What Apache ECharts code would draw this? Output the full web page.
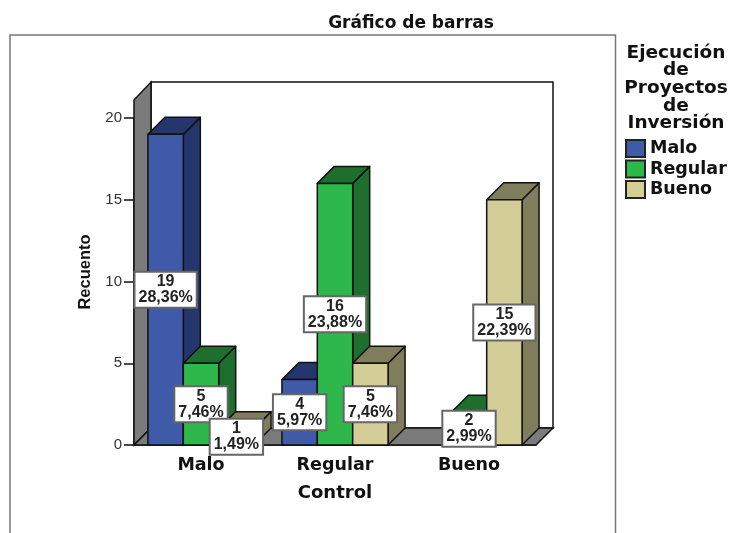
<!DOCTYPE html>
<html>
<head>
<meta charset="utf-8">
<title>Gráfico de barras</title>
<style>
  html, body { margin: 0; padding: 0; background: #fff; }
  #chart { width: 729px; height: 533px; }
</style>
<script src="https://cdn.jsdelivr.net/npm/echarts@6/dist/echarts.min.js"></script>
</head>
<body>
<div id="chart"></div>
<script>
var categories = ['Malo', 'Regular', 'Bueno']
var yTicks = [0, 5, 10, 15, 20]
var maloCounts = [19, 4, 0]
var regularCounts = [5, 16, 2]
var buenoCounts = [1, 5, 15]
var maloPercents = ['28,36%', '5,97%', '']
var regularPercents = ['7,46%', '23,88%', '2,99%']
var buenoPercents = ['1,49%', '7,46%', '22,39%']
var wallTop = 21.1

var FONT = '"DejaVu Sans", sans-serif'
var FONT_NARROW = '"Liberation Sans", sans-serif'
var DEPTH = 17
var BAR_RATIO = 0.264
var palette = [
  { name: 'Malo', front: '#3f5aa9', dark: '#24366b' },
  { name: 'Regular', front: '#2eb84c', dark: '#1e6e2e' },
  { name: 'Bueno', front: '#d3ce97', dark: '#7f7d5c' }
]
var counts = [maloCounts, regularCounts, buenoCounts]
var percents = [maloPercents, regularPercents, buenoPercents]

function barBox (api, s) {
  var i = api.value(0)
  var base = api.coord([i, 0])
  var top = api.coord([i, api.value(1)])
  var w = api.size([1, 0])[0] * BAR_RATIO
  var x = base[0] + (s - 1.5) * w
  return { x: x, w: w, y0: base[1], y1: top[1] }
}

function renderWalls (params, api) {
  var c = params.coordSys
  var left = c.x
  var right = c.x + c.width
  var y0 = c.y + c.height
  var yt = api.coord([0, wallTop])[1]
  var line = { stroke: '#111', lineWidth: 1.5 }
  return {
    type: 'group',
    children: [
      { type: 'rect', shape: { x: left + DEPTH, y: yt - DEPTH - 1, width: c.width, height: y0 - yt + 1 }, style: Object.assign({ fill: '#fff' }, line) },
      { type: 'polygon', shape: { points: [[left, yt], [left + DEPTH, yt - DEPTH - 1], [left + DEPTH, y0 - DEPTH], [left, y0]] }, style: Object.assign({ fill: '#7b7b7b' }, line) },
      { type: 'polygon', shape: { points: [[left, y0], [left + DEPTH, y0 - DEPTH], [right + DEPTH, y0 - DEPTH], [right, y0]] }, style: Object.assign({ fill: '#7b7b7b' }, line) }
    ]
  }
}

function renderBar (params, api) {
  var b = barBox(api, params.seriesIndex - 1)
  if (api.value(1) === 0) return null
  var p = palette[params.seriesIndex - 1]
  var line = { stroke: '#111', lineWidth: 1.5, lineJoin: 'round' }
  return {
    type: 'group',
    children: [
      { type: 'polygon', shape: { points: [[b.x + b.w, b.y1], [b.x + b.w + DEPTH, b.y1 - DEPTH], [b.x + b.w + DEPTH, b.y0 - DEPTH], [b.x + b.w, b.y0]] }, style: Object.assign({ fill: p.dark }, line) },
      { type: 'polygon', shape: { points: [[b.x, b.y1], [b.x + DEPTH, b.y1 - DEPTH], [b.x + b.w + DEPTH, b.y1 - DEPTH], [b.x + b.w, b.y1]] }, style: Object.assign({ fill: p.dark }, line) },
      { type: 'rect', shape: { x: b.x, y: b.y1, width: b.w, height: b.y0 - b.y1 }, style: Object.assign({ fill: p.front }, line) }
    ]
  }
}

function renderLabel (params, api) {
  var s = api.value(2)
  if (api.value(1) === 0) return null
  var b = barBox(api, s)
  return {
    type: 'text',
    x: b.x + b.w / 2,
    y: (b.y0 + b.y1) / 2,
    style: {
      text: api.value(1) + '\n' + percents[s][api.value(0)],
      align: 'center',
      verticalAlign: 'middle',
      font: 'bold 16px ' + FONT_NARROW,
      lineHeight: 16,
      fill: '#222',
      backgroundColor: '#fff',
      borderColor: '#666',
      borderWidth: 2,
      padding: [1, 3, 1, 3]
    }
  }
}

var series = [{
  name: 'walls',
  type: 'custom',
  clip: false,
  z: 1,
  renderItem: renderWalls,
  data: [[0, 0]],
  silent: true
}]
palette.forEach(function (p, s) {
  series.push({
    name: p.name,
    type: 'custom',
    clip: false,
    z: 2,
    itemStyle: { color: p.front, borderColor: '#222', borderWidth: 1.5 },
    renderItem: renderBar,
    encode: { x: 0, y: 1 },
    data: counts[s].map(function (v, i) { return [i, v] })
  })
})
var labelData = []
counts.forEach(function (list, s) {
  list.forEach(function (v, i) { labelData.push([i, v, s]) })
})
series.push({
  name: 'labels',
  type: 'custom',
  clip: false,
  z: 5,
  renderItem: renderLabel,
  encode: { x: 0, y: 1 },
  data: labelData
})

var chart = echarts.init(document.getElementById('chart'), null, { renderer: 'canvas' })
chart.setOption({
  animation: false,
  backgroundColor: '#fff',
  title: [
    {
      text: 'Gráfico de barras',
      left: 411,
      top: 15,
      padding: 0,
      textAlign: 'center',
      textStyle: { fontFamily: FONT, fontSize: 17, fontWeight: 'bold', color: '#111' }
    },
    {
      text: 'Ejecución\nde\nProyectos\nde\nInversión',
      left: 676,
      top: 44,
      padding: 0,
      textAlign: 'center',
      textStyle: { fontFamily: FONT, fontSize: 18.5, fontWeight: 'bold', color: '#111', lineHeight: 17.7 }
    }
  ],
  legend: {
    data: categories,
    orient: 'vertical',
    left: 625,
    top: 139,
    padding: 0,
    itemWidth: 19,
    itemHeight: 17,
    itemGap: 1.5,
    icon: 'rect',
    textStyle: { fontFamily: FONT, fontSize: 17.5, lineHeight: 17, fontWeight: 'bold', color: '#111' }
  },
  grid: { left: 134, top: 118, width: 402, height: 327 },
  xAxis: {
    type: 'category',
    data: categories,
    name: 'Control',
    nameLocation: 'middle',
    nameGap: 39,
    nameTextStyle: { fontFamily: FONT, fontSize: 18, fontWeight: 'bold', color: '#111' },
    axisLine: { lineStyle: { color: '#111', width: 1.5 } },
    axisTick: { alignWithLabel: true, length: 7, lineStyle: { color: '#111', width: 1.5 } },
    axisLabel: { fontFamily: FONT, fontSize: 17.5, fontWeight: 'bold', color: '#111', margin: 11 }
  },
  yAxis: {
    type: 'value',
    min: yTicks[0],
    max: yTicks[yTicks.length - 1],
    interval: 5,
    name: 'Recuento',
    nameLocation: 'middle',
    nameGap: 38,
    nameTextStyle: { fontFamily: FONT_NARROW, fontSize: 16.5, fontWeight: 'bold', color: '#111', padding: [0, 0, 0, 19] },
    splitLine: { show: false },
    axisLine: { show: true, lineStyle: { color: '#111', width: 1.5 } },
    axisTick: { show: true, length: 10, lineStyle: { color: '#111', width: 1.5 } },
    axisLabel: { fontFamily: FONT_NARROW, fontSize: 15, color: '#333', margin: 12 }
  },
  graphic: [{
    type: 'rect',
    silent: true,
    shape: { x: 10, y: 35, width: 605.5, height: 520 },
    style: { fill: 'none', stroke: '#777', lineWidth: 1.5 }
  }],
  series: series
})
</script>
</body>
</html>
